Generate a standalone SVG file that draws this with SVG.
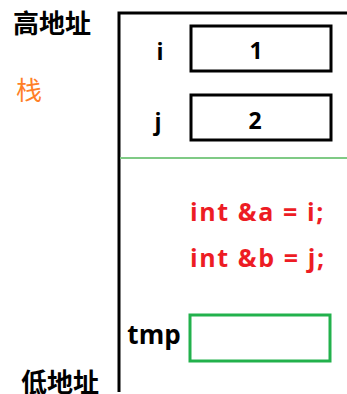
<svg xmlns="http://www.w3.org/2000/svg" width="347" height="394" viewBox="0 0 347 394">
<style>
.lbl{font-family:"Noto Sans CJK SC","Open Sans",sans-serif;font-weight:bold;font-size:26px;fill:#000}
.code{font-family:"Open Sans","Noto Sans",sans-serif;font-weight:bold;font-size:25px;fill:#ed1c24;letter-spacing:1.6px}
.cell{fill:#fff;stroke:#000;stroke-width:3}
.num{font-family:"Open Sans","Noto Sans",sans-serif;font-weight:bold;font-size:23px;fill:#000;text-anchor:middle}
</style>
<rect width="347" height="394" fill="#fff"/>
<g id="stack">
<path d="M119,392 V13 H347" fill="none" stroke="#000" stroke-width="3"/>
<line x1="120" y1="158" x2="347" y2="158" stroke="#7fca85" stroke-width="2"/>
</g>
<g id="high"><text class="lbl" x="13" y="33">高地址</text></g>
<g id="zhan"><text x="16" y="100" style="font-family:'Noto Sans CJK SC',sans-serif;font-size:26px;fill:#ff7f27">栈</text></g>
<g id="low"><text class="lbl" x="21" y="392">低地址</text></g>
<g id="i">
<text class="num" x="160" y="60">i</text>
<rect class="cell" x="191" y="26" width="140" height="45"/>
<text class="num" x="256" y="59">1</text>
</g>
<g id="j">
<text class="num" x="158" y="130">j</text>
<rect class="cell" x="191" y="95" width="140" height="45"/>
<text class="num" x="255" y="129">2</text>
</g>
<g id="code">
<text class="code" x="190" y="221">int &amp;a = i;</text>
<text class="code" x="190" y="267">int &amp;b = j;</text>
</g>
<g id="tmp">
<text class="num" x="154" y="344" style="font-size:26px">tmp</text>
<rect x="190" y="315" width="140" height="46" fill="#fff" stroke="#22b14c" stroke-width="3"/>
</g>
<g id="connectors"/>
</svg>
